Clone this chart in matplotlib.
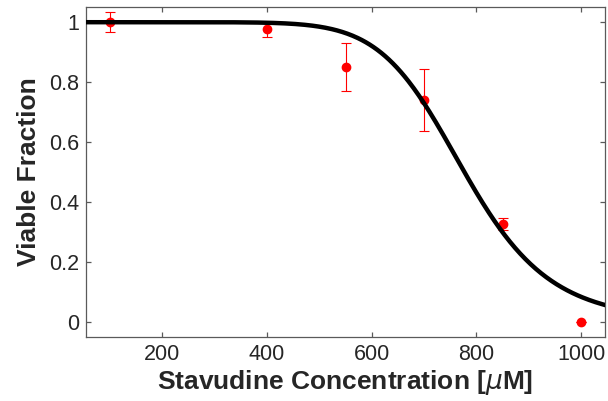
import numpy as np
import matplotlib
matplotlib.use("Agg")
import matplotlib.pyplot as plt

plt.rcParams['font.family'] = ['Liberation Sans', 'DejaVu Sans']

# data
conc = [100, 400, 550, 700, 850, 1000]
viable = [1.0, 0.976, 0.850, 0.741, 0.327, 0.0]
err = [0.034, 0.026, 0.080, 0.103, 0.019, 0.0]

# fitted Hill curve parameters
ic50 = 777.0
hill_n = 9.5

xticks = [200, 400, 600, 800, 1000]
yticks = [0, 0.2, 0.4, 0.6, 0.8, 1.0]
ytick_labels = ['0', '0.2', '0.4', '0.6', '0.8', '1']

fig = plt.figure(figsize=(6.08, 4.01), dpi=100)
ax = fig.add_axes([0.142, 0.160, 0.8526, 0.822])

xf = np.linspace(55, 1045, 400)
yf = 1.0 / (1.0 + (xf / ic50) ** hill_n)

ax.errorbar(conc, viable, yerr=err, fmt='o', color='red', ms=6,
            ecolor='red', elinewidth=0.8, capsize=3.6, capthick=0.8, zorder=2)
ax.plot(xf, yf, color='black', lw=3.2, zorder=3)

ax.set_xlim(55, 1045)
ax.set_ylim(-0.05, 1.05)
ax.set_xticks(xticks)
ax.set_yticks(yticks)
ax.set_yticklabels(ytick_labels)

axcol = '#5a5a5a'
for s in ax.spines.values():
    s.set_color(axcol)
    s.set_linewidth(0.9)
ax.tick_params(direction='in', length=3.6, width=0.9, color=axcol,
               top=True, right=True, labelsize=15.5, labelcolor='#262626', pad=5)

ax.set_xlabel('Stavudine Concentration [$\\mu$M]', fontsize=19, fontweight='bold',
              color='#262626', labelpad=2)
ax.set_ylabel('Viable Fraction', fontsize=19, fontweight='bold', color='#262626',
              labelpad=6)

fig.savefig('out.png', dpi=100)
